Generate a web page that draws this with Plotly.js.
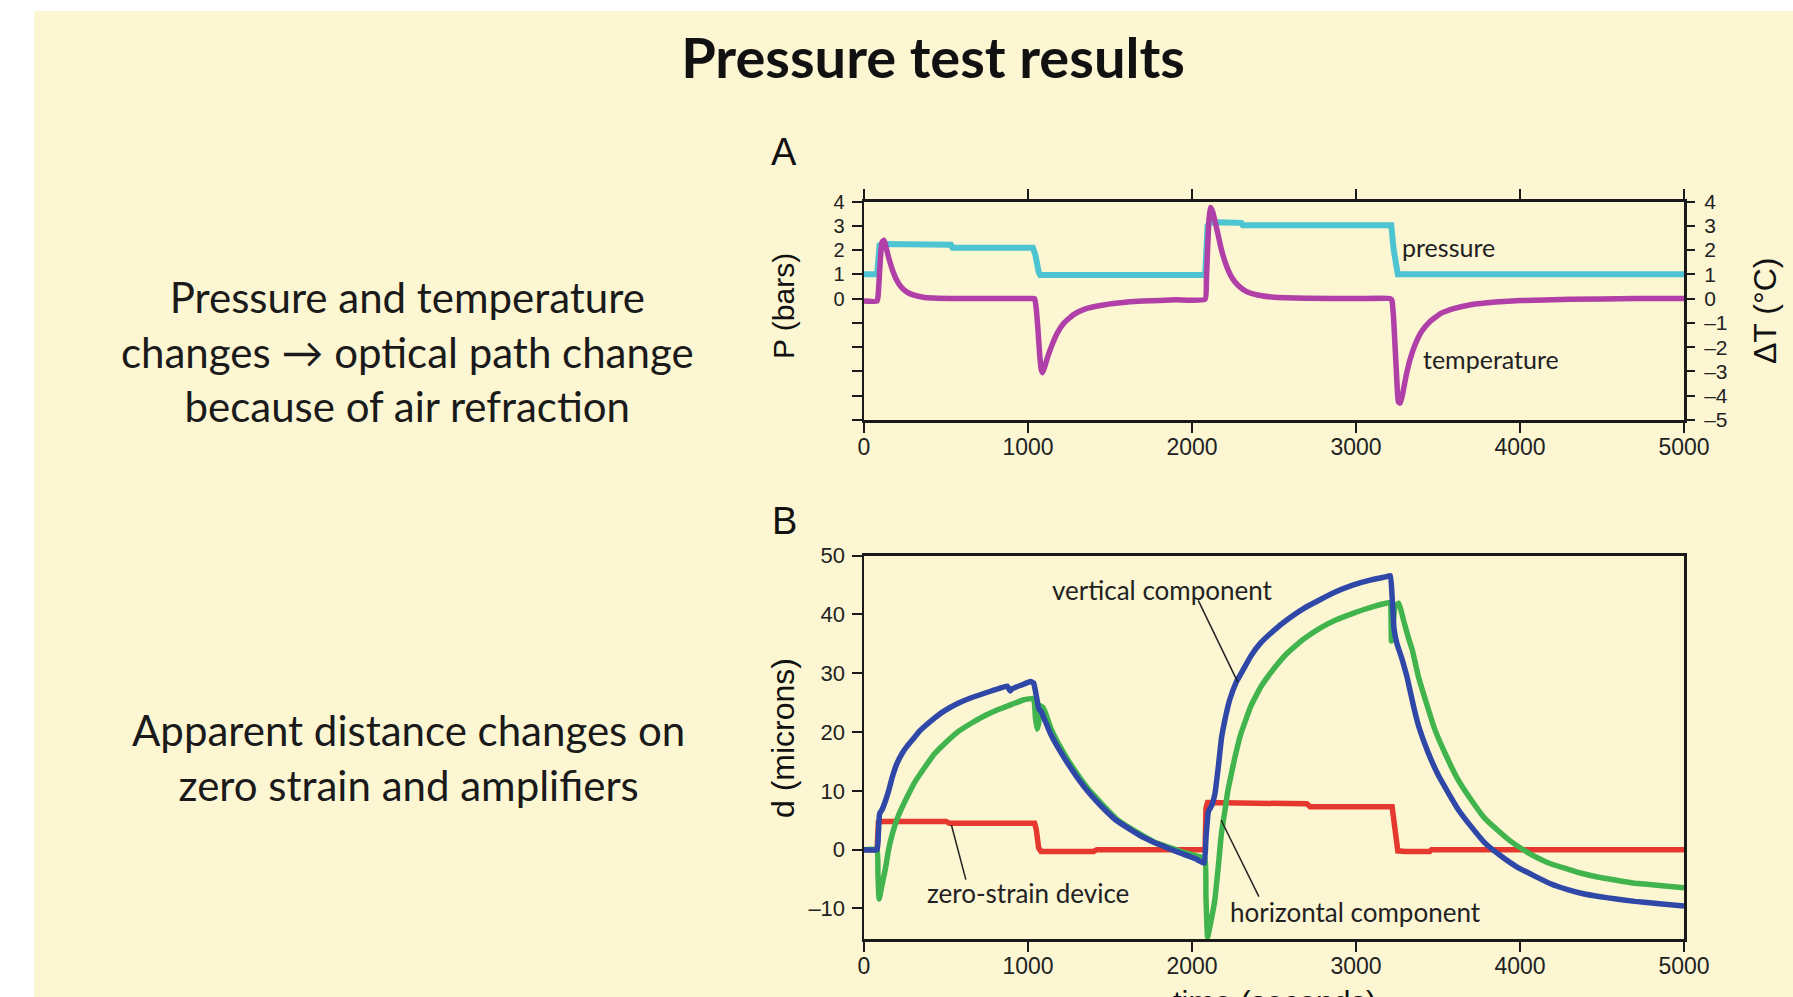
<!DOCTYPE html>
<html>
<head>
<meta charset="utf-8">
<script src="https://cdn.plot.ly/plotly-3.0.1.min.js"></script>
<style>
  html, body { margin:0; padding:0; background:#ffffff; width:1793px; height:997px; overflow:hidden; }
  #bg { position:absolute; left:34px; top:11px; right:0; bottom:0; background:#fcf6d3; }
  #chart { position:absolute; left:0; top:0; width:1793px; height:997px; }
</style>
</head>
<body>
<div id="bg"></div>
<div id="chart"></div>
<script>
// ---------- Panel A: pressure (bars) and temperature change (°C) ----------
const pressureTime = [0, 80, 95, 110, 530, 540, 1030, 1045, 1065, 1075, 2080, 2095, 2110, 2300, 2310, 3215, 3230, 3245, 3255, 5000];
const pressureBars = [1, 1, 2.2, 2.25, 2.22, 2.1, 2.1, 1.8, 1.1, 0.97, 0.97, 3.0, 3.15, 3.12, 3.02, 3.02, 2.0, 1.1, 1.0, 1.0];

const tempTime = [0, 80, 88, 96, 104, 112, 122, 135, 152, 175, 200, 230, 260, 300, 370, 450, 600, 800, 1000, 1040, 1050, 1060, 1070, 1080, 1088, 1100, 1120, 1150, 1180, 1220, 1280, 1350, 1450, 1550, 1700, 1900, 2080, 2088, 2096, 2104, 2112, 2125, 2140, 2160, 2180, 2210, 2240, 2280, 2330, 2400, 2500, 2700, 3000, 3210, 3220, 3230, 3240, 3250, 3258, 3270, 3285, 3305, 3330, 3360, 3400, 3450, 3520, 3600, 3700, 3850, 4000, 4300, 4700, 5000];
const tempDelta = [-0.1, -0.1, 0.3, 1.2, 2.0, 2.35, 2.4, 2.1, 1.65, 1.15, 0.75, 0.45, 0.28, 0.15, 0.05, 0.02, 0, 0, 0, 0, -0.4, -1.2, -2.2, -2.9, -3.05, -2.85, -2.4, -1.85, -1.4, -1.0, -0.65, -0.42, -0.27, -0.18, -0.1, -0.05, -0.03, 0.8, 2.2, 3.3, 3.75, 3.6, 3.2, 2.6, 2.0, 1.35, 0.9, 0.55, 0.3, 0.15, 0.06, 0.02, 0, 0, -0.1, -0.9, -2.2, -3.5, -4.25, -4.3, -3.9, -3.2, -2.5, -1.9, -1.35, -0.95, -0.6, -0.4, -0.25, -0.14, -0.08, -0.03, 0, 0];

// ---------- Panel B: apparent distance (microns) ----------
const vertTime = [0, 80, 88, 95, 110, 132, 155, 173, 200, 233, 263, 293, 340, 413, 490, 574, 650, 734, 800, 855, 875, 890, 905, 960, 1015, 1035, 1045, 1055, 1065, 1080, 1100, 1136, 1195, 1256, 1315, 1377, 1450, 1537, 1620, 1697, 1780, 1858, 1940, 2018, 2075, 2085, 2100, 2120, 2140, 2160, 2180, 2200, 2230, 2270, 2300, 2360, 2420, 2500, 2580, 2680, 2780, 2880, 2980, 3080, 3180, 3210, 3222, 3232, 3250, 3280, 3310, 3350, 3383, 3440, 3503, 3560, 3624, 3700, 3784, 3880, 3985, 4090, 4186, 4290, 4386, 4490, 4587, 4700, 4850, 5000];
const vertMicrons = [0, 0, 3, 6.1, 6.8, 8.4, 10.5, 12.4, 14.6, 16.4, 17.6, 18.6, 20.2, 22, 23.6, 24.9, 25.8, 26.6, 27.2, 27.7, 27.8, 27.0, 27.4, 28.0, 28.6, 28.3, 27.0, 25.5, 24.0, 23.5, 22.2, 19.8, 16.8, 14.1, 11.7, 9.5, 7.3, 5.0, 3.5, 2.2, 1.1, 0.2, -0.7, -1.5, -2.3, 2.0, 6.5, 7.5, 9.5, 14, 19, 22, 25.5, 28.5, 30, 33, 35.2, 37.3, 39.1, 41, 42.5, 43.9, 45, 45.8, 46.4, 46.6, 42, 37.5, 35, 32.5, 29.5, 24.5, 20.9, 16.5, 12.6, 9.8, 6.8, 4.0, 1.2, -1.0, -3.0, -4.5, -5.8, -6.8, -7.5, -8.0, -8.4, -8.8, -9.2, -9.6];

const horizTime = [0, 80, 85, 92, 110, 132, 150, 173, 210, 253, 310, 373, 430, 494, 570, 654, 730, 815, 900, 975, 1035, 1045, 1055, 1065, 1075, 1090, 1110, 1140, 1200, 1256, 1320, 1377, 1450, 1537, 1620, 1700, 1778, 1860, 1940, 2020, 2079, 2085, 2095, 2110, 2139, 2160, 2179, 2200, 2219, 2260, 2299, 2360, 2420, 2500, 2580, 2680, 2781, 2880, 2982, 3100, 3200, 3210, 3216, 3225, 3240, 3262, 3290, 3320, 3343, 3380, 3423, 3480, 3543, 3620, 3704, 3780, 3864, 3940, 4025, 4100, 4186, 4290, 4386, 4480, 4587, 4700, 4850, 5000];
const horizMicrons = [0, 0, -4, -8.4, -6, -3, 0, 2.7, 5.8, 8.4, 11.5, 14.1, 16.3, 18.1, 20, 21.5, 22.7, 23.8, 24.7, 25.5, 25.7, 22.5, 20.5, 21.5, 24.5, 24.2, 23.0, 20.6, 17.3, 14.7, 12.1, 10.0, 7.8, 5.3, 3.7, 2.4, 1.2, 0.4, -0.4, -1.0, -1.5, -8, -14.9, -13, -8.6, -3, 2.7, 6.5, 10.1, 15.5, 19.8, 24.5, 27.7, 30.8, 33.4, 35.8, 37.7, 39.1, 40.2, 41.3, 42, 42, 35.5, 38, 41.5, 41.9, 39, 36, 34, 29.5, 25.5, 20.5, 16.4, 12, 8.4, 5.5, 3.3, 1.5, -0.1, -1.3, -2.4, -3.3, -4.1, -4.7, -5.2, -5.7, -6.1, -6.5];

const zeroTime = [0, 80, 88, 100, 500, 520, 1040, 1050, 1065, 1080, 1400, 1420, 2080, 2085, 2095, 2700, 2720, 3220, 3240, 3255, 3300, 3450, 3460, 5000];
const zeroMicrons = [0, 0, 4.7, 4.8, 4.8, 4.5, 4.5, 3.5, 0.3, -0.3, -0.3, 0, 0, 7.0, 8.0, 7.8, 7.3, 7.3, 3.0, -0.2, -0.3, -0.3, 0, 0];

// ---------- Texts and ticks ----------
const titleText = 'Pressure test results';
const leftTextA = 'Pressure and temperature<br>changes \u2192 optical path change<br>because of air refraction';
const leftTextB = 'Apparent distance changes on<br>zero strain and amplifiers';
const xTicks = [0, 1000, 2000, 3000, 4000, 5000];
const pLeftTicks = [-5, -4, -3, -2, -1, 0, 1, 2, 3, 4];
const pLeftLabels = ['', '', '', '', '', '0', '1', '2', '3', '4'];
const tRightTicks = [-5, -4, -3, -2, -1, 0, 1, 2, 3, 4];
const dTicks = [-10, 0, 10, 20, 30, 40, 50];

const C = {cyan:'#4cc4d1', magenta:'#b13fa8', blue:'#2f48a8', green:'#41b44e', red:'#e5392f'};
const tickFont = 'Liberation Sans, Arial, sans-serif';
const textFont = 'Lato, Noto Sans, sans-serif';
const dash = v => v < 0 ? '\u2013' + Math.abs(v) : String(v);

const traces = [
  {x: pressureTime, y: pressureBars, xaxis:'x', yaxis:'y', mode:'lines', line:{color:C.cyan, width:6}, name:'pressure', showlegend:false},
  {x: tempTime, y: tempDelta, xaxis:'x', yaxis:'y3', mode:'lines', line:{color:C.magenta, width:5.5, shape:'spline', smoothing:0.4}, name:'temperature', showlegend:false},
  {x: zeroTime, y: zeroMicrons, xaxis:'x2', yaxis:'y2', mode:'lines', line:{color:C.red, width:5.5}, name:'zero-strain device', showlegend:false},
  {x: horizTime, y: horizMicrons, xaxis:'x2', yaxis:'y2', mode:'lines', line:{color:C.green, width:5.5, shape:'spline', smoothing:0.3}, name:'horizontal component', showlegend:false},
  {x: vertTime, y: vertMicrons, xaxis:'x2', yaxis:'y2', mode:'lines', line:{color:C.blue, width:5.5, shape:'spline', smoothing:0.3}, name:'vertical component', showlegend:false}
];

const W = 1793, H = 997;
const xDom = [864/W, 1684/W];
const yDomA = [1-420/H, 1-201.5/H];
const yDomB = [1-939/H, 1-555.7/H];

const baseAxis = {showgrid:false, zeroline:false, showline:true, linecolor:'#1a1a1a', linewidth:2.5, ticks:'outside', tickcolor:'#1a1a1a', ticklen:10, tickwidth:2, fixedrange:true};

const layout = {
  width: W, height: H,
  margin: {l:0, r:0, t:0, b:0},
  paper_bgcolor: 'rgba(0,0,0,0)',
  plot_bgcolor: 'rgba(0,0,0,0)',
  showlegend: false,
  title: {text: '<b>' + titleText + '</b>', x: 933/W, xanchor:'center', y: 1 - 58/H, yanchor:'middle', font:{family:textFont, size:56, color:'#111111'}},
  xaxis: Object.assign({}, baseAxis, {domain:xDom, anchor:'y', range:[0,5000], tickvals:xTicks, ticktext:xTicks.map(String), mirror:'ticks', ticklabelstandoff:-5, tickfont:{family:tickFont, size:23, color:'#222'}}),
  yaxis: Object.assign({}, baseAxis, {domain:yDomA, anchor:'x', range:[-5,4], tickvals:pLeftTicks, ticktext:pLeftLabels, mirror:true, ticklabelstandoff:3, tickfont:{family:tickFont, size:20, color:'#222'}}),
  yaxis3: Object.assign({}, baseAxis, {overlaying:'y', side:'right', anchor:'x', range:[-5,4], tickvals:tRightTicks, ticktext:tRightTicks.map(dash), showline:false, ticklabelstandoff:5, tickfont:{family:tickFont, size:21, color:'#222'}}),
  xaxis2: Object.assign({}, baseAxis, {domain:xDom, anchor:'y2', range:[0,5000], tickvals:xTicks, ticktext:xTicks.map(String), mirror:true, ticklabelstandoff:-5, tickfont:{family:tickFont, size:23, color:'#222'}}),
  yaxis2: Object.assign({}, baseAxis, {domain:yDomB, anchor:'x2', range:[-15.2,50], tickvals:dTicks, ticktext:dTicks.map(dash), mirror:true, ticklabelstandoff:2, tickfont:{family:tickFont, size:22, color:'#222'}}),
  annotations: [
    {text: leftTextA, xref:'paper', yref:'paper', x:407/W, y:1-352/H, xanchor:'center', yanchor:'middle', showarrow:false, align:'center', font:{family:textFont, size:42, color:'#1a1a1a'}},
    {text: leftTextB, xref:'paper', yref:'paper', x:408/W, y:1-757/H, xanchor:'center', yanchor:'middle', showarrow:false, align:'center', font:{family:textFont, size:42, color:'#1a1a1a'}},
    {text: 'A', xref:'paper', yref:'paper', x:784/W, y:1-152/H, xanchor:'center', yanchor:'middle', showarrow:false, font:{family:tickFont, size:38, color:'#111'}},
    {text: 'B', xref:'paper', yref:'paper', x:784/W, y:1-521/H, xanchor:'center', yanchor:'middle', showarrow:false, font:{family:tickFont, size:38, color:'#111'}},
    {text: 'P (bars)', xref:'paper', yref:'paper', x:783/W, y:1-306/H, xanchor:'center', yanchor:'middle', textangle:-90, showarrow:false, font:{family:tickFont, size:30, color:'#111'}},
    {text: '\u0394T (\u00b0C)', xref:'paper', yref:'paper', x:1765/W, y:1-311/H, xanchor:'center', yanchor:'middle', textangle:-90, showarrow:false, font:{family:tickFont, size:32, color:'#111'}},
    {text: 'd (microns)', xref:'paper', yref:'paper', x:783/W, y:1-738/H, xanchor:'center', yanchor:'middle', textangle:-90, showarrow:false, font:{family:tickFont, size:32, color:'#111'}},
    {text: 'time (seconds)', xref:'paper', yref:'paper', x:1274/W, y:1-1002/H, xanchor:'center', yanchor:'middle', showarrow:false, font:{family:tickFont, size:31, color:'#111'}},
    {text: 'pressure', xref:'x', yref:'y', x:3564, y:2.14, xanchor:'center', yanchor:'middle', showarrow:false, font:{family:textFont, size:25, color:'#222'}},
    {text: 'temperature', xref:'x', yref:'y', x:3826, y:-2.48, xanchor:'center', yanchor:'middle', showarrow:false, font:{family:textFont, size:25, color:'#222'}},
    {text: 'vertical component', xref:'x2', yref:'y2', x:1819, y:44.2, xanchor:'center', yanchor:'middle', showarrow:false, font:{family:textFont, size:26, color:'#222'}},
    {text: 'zero-strain device', xref:'x2', yref:'y2', x:999, y:-7.35, xanchor:'center', yanchor:'middle', showarrow:false, font:{family:textFont, size:26, color:'#222'}},
    {text: 'horizontal component', xref:'x2', yref:'y2', x:2995, y:-10.6, xanchor:'center', yanchor:'middle', showarrow:false, font:{family:textFont, size:26, color:'#222'}}
  ],
  shapes: [
    {type:'line', xref:'x2', yref:'y2', x0:2038, y0:42.4, x1:2279, y1:28.5, line:{color:'#222', width:1.5}},
    {type:'line', xref:'x2', yref:'y2', x0:533, y0:4.2, x1:621, y1:-5.1, line:{color:'#222', width:1.5}},
    {type:'line', xref:'x2', yref:'y2', x0:2178, y0:5.0, x1:2408, y1:-8.0, line:{color:'#222', width:1.5}}
  ]
};

Plotly.newPlot('chart', traces, layout, {staticPlot:true, displayModeBar:false});
</script>
</body>
</html>
